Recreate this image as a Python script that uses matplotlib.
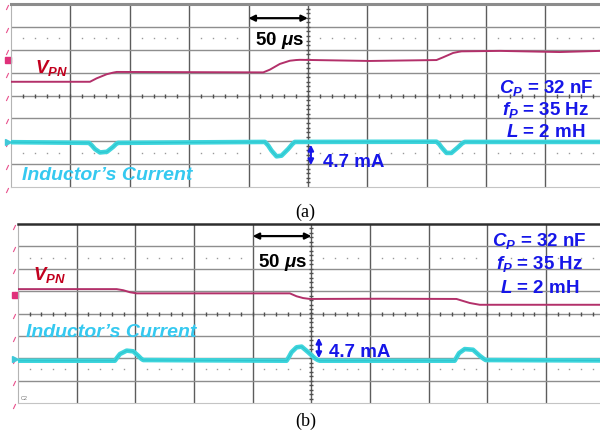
import matplotlib
matplotlib.use("Agg")
import matplotlib.pyplot as plt
import numpy as np

plt.rcParams['font.family'] = ['Liberation Sans', 'DejaVu Sans']
plt.rcParams['mathtext.fontset'] = 'custom'
plt.rcParams['mathtext.it'] = 'Liberation Sans:italic:bold'
plt.rcParams['mathtext.rm'] = 'Liberation Sans:bold'
plt.rcParams['mathtext.bf'] = 'Liberation Sans:bold'

# ---- data: time in us (50 us/div), amplitude in screen divisions ----
# (a) V_PN steps up, inductor current dips
vpn_a_t = [0, 66.5, 72.1, 80.6, 86.0, 89.0, 150, 212.4, 218.0, 226.4, 234.8,
           240.0, 243.3, 302, 358.3, 363.9, 372.3, 377.0, 379.4, 412, 462, 496]
vpn_a_v = [0.60, 0.60, 0.75, 0.93, 1.00, 1.03, 1.02, 1.01, 1.13, 1.38, 1.52,
           1.55, 1.56, 1.51, 1.55, 1.67, 1.86, 1.91, 1.93, 1.95, 1.90, 1.95]

cur_a_t = [0, 65.7, 68.0, 70.7, 74.9, 80.8, 85.9, 88.5, 90.1, 213.8, 216.5,
           219.4, 223.6, 227.8, 233.4, 237.0, 239.0, 358.3, 360.5, 362.5, 366.7,
           370.9, 376.5, 380.0, 382.1, 496]
cur_a_v = [-2.04, -2.07, -2.18, -2.34, -2.49, -2.46, -2.25, -2.12, -2.07, -2.03,
           -2.18, -2.41, -2.66, -2.63, -2.34, -2.12, -2.03, -2.02, -2.12, -2.26,
           -2.51, -2.51, -2.26, -2.09, -2.03, -2.03]

# (b) V_PN steps down, inductor current bumps
vpn_b_t = [0, 84.1, 89.7, 95.4, 101.1, 170, 231.7, 237.4, 243.0, 248.7, 310,
           373.7, 379.3, 385.0, 393.5, 450, 496]
vpn_b_v = [1.09, 1.09, 1.04, 0.95, 0.90, 0.90, 0.90, 0.77, 0.69, 0.65, 0.66,
           0.65, 0.56, 0.47, 0.39, 0.39, 0.39]

cur_b_t = [0, 82.6, 84.5, 86.9, 92.6, 98.2, 102.5, 105.0, 106.7, 228.9, 230.8,
           233.1, 237.4, 241.7, 247.3, 253.0, 255.5, 257.2, 372.2, 373.9, 375.9,
           380.7, 387.8, 393.5, 397.0, 398.6, 496]
cur_b_v = [-2.11, -2.11, -1.97, -1.81, -1.66, -1.69, -1.89, -2.02, -2.08, -2.11,
           -1.95, -1.73, -1.51, -1.48, -1.73, -2.00, -2.08, -2.11, -2.11, -1.95,
           -1.77, -1.59, -1.62, -1.89, -2.03, -2.08, -2.10]

params = [r'$C_P$ = 32 nF', r'$f_P$ = 35 Hz', r'$L$ = 2 mH']

VPN_COLOR = '#b3306a'
CUR_COLOR = '#3ed5dc'
BLUE = '#1616e8'


def draw_screen(ax, top_color, top_lw):
    """scope graticule: 10 x 8 divisions, 50 us/div"""
    ax.set_xlim(0, 496)
    ax.set_ylim(-4, 4)
    for x in np.arange(50, 500, 50):
        ax.axvline(x, color='#5c5c5c', lw=1.0, zorder=1)
    for y in range(-3, 4):
        ax.axhline(y, color='#8e8e8e', lw=1.0, zorder=1)

    # dotted rows
    xd = [x for x in np.arange(10, 496, 10) if x % 50]
    for y in (2.5, -2.5):
        ax.plot(xd, [y] * len(xd), ls='none', marker='s', ms=1.0,
                color='#9a9a9a', mec='none', zorder=1)

    # centre cross with minor ticks
    xt = np.arange(10, 496, 10)
    ax.plot(xt, np.zeros(len(xt)), ls='none', marker='|', ms=3.5,
            mew=1.0, color='#505050', zorder=1)
    yt = np.arange(-3.8, 4, 0.2)
    ax.plot(np.full(len(yt), 250), yt, ls='none', marker='_', ms=3.5,
            mew=1.0, color='#505050', zorder=1)

    ax.spines['right'].set_visible(False)
    ax.spines['top'].set_color(top_color)
    ax.spines['top'].set_linewidth(top_lw)
    ax.spines['left'].set_color('#b4b4b4')
    ax.spines['bottom'].set_color('#c4c4c4')
    ax.set_xticks([])
    ax.set_yticks([])

    # pink level markers on the left edge
    ym = [k - 0.12 for k in range(4, -5, -1)]
    ax.plot(np.full(len(ym), -3.5), ym, ls='none', marker=(2, 0, -25),
            ms=4, mew=0.8, color='#e8508c', clip_on=False)


def draw_traces(ax, vt, vv, ct, cv):
    ax.plot(vt, vv, color=VPN_COLOR, lw=1.4, solid_joinstyle='round', zorder=3)
    ax.plot(ct, cv, color=CUR_COLOR, lw=3.3, solid_joinstyle='round',
            solid_capstyle='round', zorder=3)
    ax.plot(ct, cv, color='#22bcc8', lw=0.8, alpha=0.6,
            solid_joinstyle='round', zorder=4)


def annotate(ax, vpn_xy, ind_xy, us_xy, arr_y, par_x, par_y, ma_x, ma_y, arr_ma):
    ax.text(*vpn_xy, r'$V_{PN}$', color='#c2001e', fontsize=13.5,
            va='baseline', zorder=5)
    ax.text(*ind_xy, 'Inductor\u2019s Current', color='#35c9f0', fontsize=14,
            fontweight='bold', fontstyle='italic', va='baseline', zorder=5)
    ax.text(*us_xy, r'50 $\mu$s', color='black', fontsize=13.5,
            fontweight='bold', va='baseline', zorder=5)
    ax.annotate('', xy=(200, arr_y), xytext=(250, arr_y),
                arrowprops=dict(arrowstyle='<|-|>', color='black', lw=1.6,
                                mutation_scale=9, shrinkA=0, shrinkB=0))
    for txt, y in zip(params, par_y):
        ax.text(par_x, y, txt, color=BLUE, fontsize=13.5, fontweight='bold',
                ha='center', va='baseline', zorder=5)
    ax.text(ma_x, ma_y, '4.7 mA', color=BLUE, fontsize=13.5,
            fontweight='bold', va='baseline', zorder=5)
    ax.annotate('', xy=(arr_ma[0], arr_ma[1]), xytext=(arr_ma[0], arr_ma[2]),
                arrowprops=dict(arrowstyle='<|-|>', color=BLUE, lw=1.6,
                                mutation_scale=8, shrinkA=0, shrinkB=0))


fig = plt.figure(figsize=(6, 4.35), dpi=100)

# ---- (a) ----
ax_a = fig.add_axes([11 / 600, 1 - 188 / 435, 589 / 600, 183 / 435])
draw_screen(ax_a, '#8c8c8c', 2.2)
draw_traces(ax_a, vpn_a_t, vpn_a_v, cur_a_t, cur_a_v)
ax_a.plot([-2.5], [1.55], ls='none', marker='s', ms=4.5, color='#e0307a',
          clip_on=False)
ax_a.plot([-2.5], [-2.03], ls='none', marker='>', ms=4, color='#40c8d8',
          clip_on=False)
annotate(ax_a, (20.2, 1.03), (9.3, -3.65), (205.4, 2.25), 3.38,
         450.3, [0.17, -0.81, -1.76], 262.6, -3.07, (252.5, -2.15, -3.05))

# ---- (b) ----
ax_b = fig.add_axes([18 / 600, 1 - 404 / 435, 582 / 600, 179 / 435])
draw_screen(ax_b, '#2e2e2e', 1.8)
draw_traces(ax_b, vpn_b_t, vpn_b_v, cur_b_t, cur_b_v)
ax_b.plot([-2.5], [0.83], ls='none', marker='s', ms=4.5, color='#e0307a',
          clip_on=False)
ax_b.plot([-2.5], [-2.03], ls='none', marker='>', ms=4, color='#40c8d8',
          clip_on=False)
ax_b.text(2, -3.75, 'C2', fontsize=4, color='#777777', va='center')
annotate(ax_b, (12.8, 1.54), (6.8, -1.02), (204.4, 2.14), 3.46,
         444.4, [3.06, 2.02, 0.95], 264.9, -1.89, (256.4, -1.08, -2.0))

# ---- sub-captions ----
fig.text(305 / 600, 1 - 212 / 435, '(a)', family='Liberation Serif',
         fontsize=13, ha='center', va='center')
fig.text(306 / 600, 1 - 421 / 435, '(b)', family='Liberation Serif',
         fontsize=13, ha='center', va='center')

fig.savefig('out.png', dpi=100)
